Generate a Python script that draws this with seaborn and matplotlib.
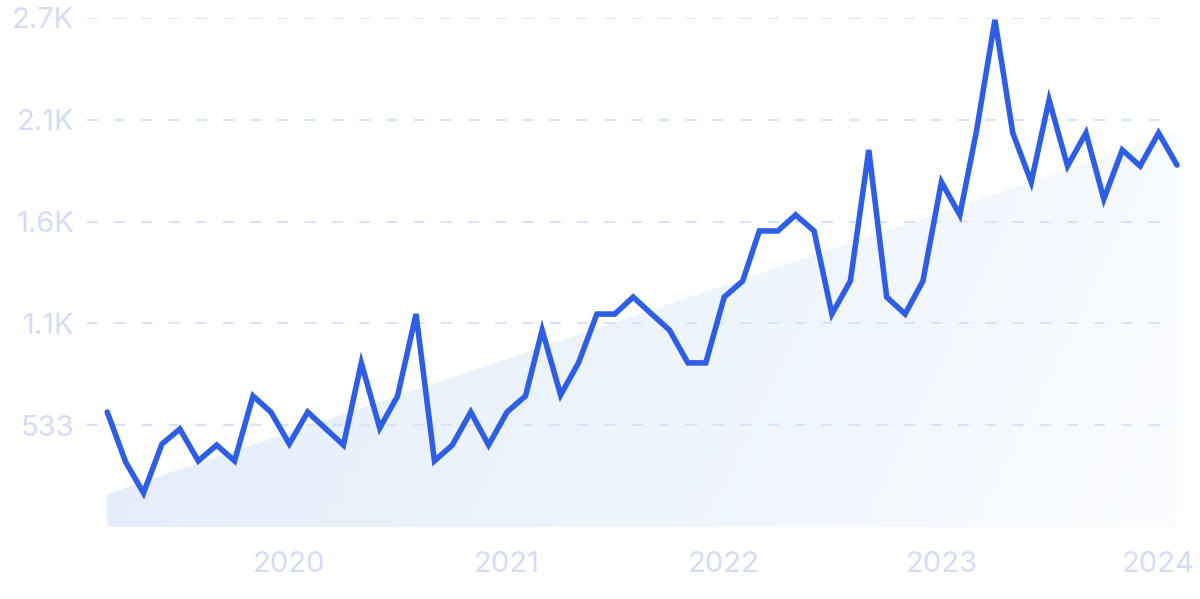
import pandas as pd
import seaborn as sns
import numpy as np
import matplotlib.pyplot as plt
from matplotlib.colors import LinearSegmentedColormap

sns.set_style('white')
plt.rcParams['font.family'] = ['Inter', 'DejaVu Sans']

# monthly values, Mar 2019 - Feb 2024
months = pd.date_range('2019-03-01', periods=60, freq='MS')
values = [602, 340, 178, 435, 513, 346, 429, 346, 686, 602,
          435, 602, 518, 429, 859, 518, 686, 1115, 346, 429,
          602, 429, 602, 686, 1031, 691, 859, 1115, 1115, 1204,
          1115, 1031, 859, 859, 1204, 1288, 1550, 1550, 1634, 1550,
          1115, 1288, 1974, 1204, 1115, 1288, 1806, 1634, 2073, 2655,
          2063, 1806, 2236, 1890, 2063, 1717, 1974, 1890, 2063, 1895]
# trend band (start / end values)
trend_start = 173
trend_end = 2065
y_ticks = [533, 1066, 1599, 2132, 2665]
y_labels = ['533', '1.1K', '1.6K', '2.1K', '2.7K']
x_years = ['2020', '2021', '2022', '2023', '2024']

df = pd.DataFrame({'month': months, 'value': values})

line_color = '#2e5ee6'
label_color = '#d3dcf6'
grid_color = '#d6e3fb'

fig = plt.figure(figsize=(12, 5.99), dpi=100)
ax = fig.add_axes([87 / 1200, (599 - 527) / 599, (1177 - 87) / 1200, (527 - 18) / 599])

# gradient trend area
tx = [months[0], months[-1]]
ty = [trend_start, trend_end]
poly = ax.fill_between(tx, 0, ty, color='none', lw=0)
cmap = LinearSegmentedColormap.from_list('fade', ['#e1ecfa', '#fafcff'])
xx, yy = np.meshgrid(np.linspace(0, 1, 200), np.linspace(0, 1, 100))
grad = xx * 0.85 + (1 - yy) * 0.15
x0, x1 = plt.matplotlib.dates.date2num(tx)
img = ax.imshow(grad, cmap=cmap, aspect='auto', origin='lower',
                extent=[x0, x1, 0, trend_end], zorder=1, vmin=0, vmax=1)
img.set_clip_path(poly.get_paths()[0], transform=ax.transData)

for t in y_ticks:
    ax.axhline(t, xmin=0, xmax=(1165 - 87) / (1177 - 87), color=grid_color,
               lw=1.4, ls=(0, (5.6, 8.4)), zorder=2)

sns.lineplot(data=df, x='month', y='value', ax=ax, color=line_color,
             lw=4.0, zorder=3, clip_on=False)
ax.lines[-1].set_solid_joinstyle('miter')

ax.set_xlim(months[0] - pd.Timedelta(days=34), months[-1])
ax.set_ylim(0, 2665)
ax.set_yticks(y_ticks)
ax.set_yticklabels(y_labels)
ax.set_xticks([pd.Timestamp(y + '-01-01') for y in x_years])
ax.set_xticklabels(x_years)
ax.tick_params(axis='both', length=0, labelsize=21, labelcolor=label_color)
ax.tick_params(axis='y', pad=9)
ax.tick_params(axis='x', pad=17)
ax.set_xlabel('')
ax.set_ylabel('')
sns.despine(ax=ax, left=True, bottom=True)
ax.grid(False)

fig.savefig('out.png', dpi=100, facecolor='white')
